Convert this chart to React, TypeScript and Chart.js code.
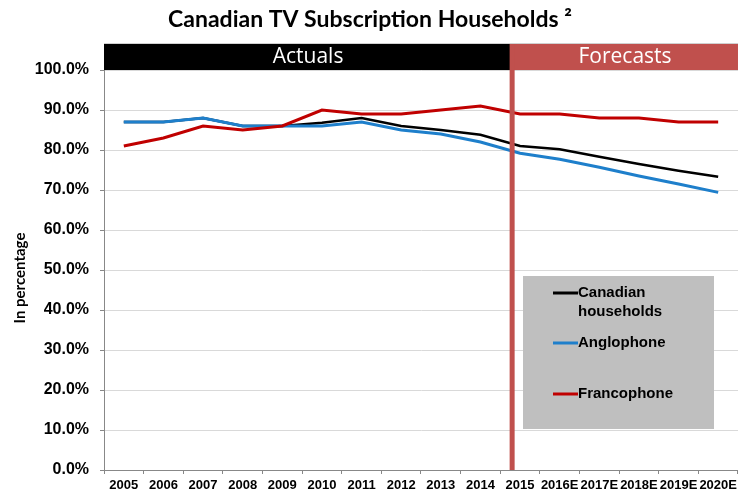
import React, { useEffect, useRef } from 'react';
import { Chart, registerables } from 'chart.js';

Chart.register(...registerables);

const chartTitle = 'Canadian TV Subscription Households ²';
const yAxisTitle = 'In percentage';
const categories = ['2005', '2006', '2007', '2008', '2009', '2010', '2011', '2012', '2013', '2014', '2015', '2016E', '2017E', '2018E', '2019E', '2020E'];
const canadianHouseholds = [87, 87, 88, 86, 86, 86.8, 88, 86, 85, 83.8, 81, 80.2, 78.3, 76.5, 74.8, 73.3];
const anglophone = [87, 87, 88, 86, 86, 86, 87, 85, 84, 82, 79.2, 77.7, 75.7, 73.5, 71.5, 69.4];
const francophone = [81, 83, 86, 85, 86, 90, 89, 89, 90, 91, 89, 89, 88, 88, 87, 87];
const seriesNames = ['Canadian households', 'Anglophone', 'Francophone'];
const legendLines = [['Canadian', 'households'], ['Anglophone'], ['Francophone']];
const seriesColors = ['#000000', '#1E7FCB', '#C00000'];
const headerLabels = ['Actuals', 'Forecasts'];
const forecastSplit = 9.8; // category index position of the actual/forecast divider
const yMin = 0;
const yMax = 100;
const yStep = 10;

const overlayPlugin = {
  id: 'overlay',
  afterDraw(chart: any) {
    const { ctx, chartArea, scales } = chart;
    const x = scales.x;
    const splitX = x.getPixelForValue(forecastSplit);
    const bandTop = chartArea.top - 26;
    ctx.save();
    // title
    ctx.fillStyle = '#000';
    ctx.font = 'bold 23px Lato, "Open Sans", sans-serif';
    ctx.textAlign = 'center';
    ctx.textBaseline = 'middle';
    ctx.fillText(chartTitle, 370, 20);
    // y axis title
    ctx.save();
    ctx.translate(20, 278);
    ctx.rotate(-Math.PI / 2);
    ctx.font = 'bold 15px Lato, "Open Sans", sans-serif';
    ctx.fillText(yAxisTitle, 0, 0);
    ctx.restore();
    // top border
    ctx.strokeStyle = '#D0D0D0';
    ctx.lineWidth = 1;
    ctx.beginPath();
    ctx.moveTo(chartArea.left, bandTop - 0.5);
    ctx.lineTo(chartArea.right, bandTop - 0.5);
    ctx.stroke();
    // header bands
    ctx.fillStyle = '#000000';
    ctx.fillRect(chartArea.left, bandTop, splitX - chartArea.left, 26);
    ctx.fillStyle = '#C0504D';
    ctx.fillRect(splitX, bandTop, chartArea.right - splitX, 26);
    ctx.fillStyle = '#FFFFFF';
    ctx.font = '21px "Open Sans", Lato, sans-serif';
    ctx.fillText(headerLabels[0], (chartArea.left + splitX) / 2, bandTop + 13);
    ctx.fillText(headerLabels[1], (splitX + chartArea.right) / 2, bandTop + 13);
    // divider line
    ctx.fillStyle = '#C0504D';
    ctx.fillRect(splitX - 2.5, bandTop, 5, chartArea.bottom - bandTop);
    // legend
    const lx = 523, ly = 276, lw = 191, lh = 153;
    ctx.fillStyle = '#BFBFBF';
    ctx.fillRect(lx, ly, lw, lh);
    const rowY = [293, 343, 394];
    ctx.font = 'bold 15px "Liberation Sans", Arial, sans-serif';
    ctx.textAlign = 'left';
    legendLines.forEach((lines, i) => {
      ctx.strokeStyle = seriesColors[i];
      ctx.lineWidth = 3;
      ctx.beginPath();
      ctx.moveTo(553, rowY[i]);
      ctx.lineTo(578, rowY[i]);
      ctx.stroke();
      ctx.fillStyle = '#000';
      lines.forEach((t, j) => ctx.fillText(t, 578, rowY[i] + j * 19));
    });
    ctx.restore();
  },
};

export default function App() {
  const ref = useRef<HTMLCanvasElement>(null);
  useEffect(() => {
    if (!ref.current) return;
    const series = [canadianHouseholds, anglophone, francophone];
    const chart = new Chart(ref.current, {
      type: 'line',
      data: {
        labels: categories,
        datasets: series.map((d, i) => ({
          label: seriesNames[i],
          data: d,
          borderColor: seriesColors[i],
          backgroundColor: seriesColors[i],
          borderWidth: i === 0 ? 2.6 : 3,
          pointRadius: 0,
          tension: 0,
          order: 3 - i,
        })),
      },
      options: {
        responsive: false,
        animation: false,
        layout: { padding: { top: 70, left: 0, right: 1, bottom: 0 } },
        plugins: {
          legend: { display: false },
          tooltip: { enabled: false },
          title: { display: false },
        },
        scales: {
          x: {
            type: 'category',
            offset: true,
            afterFit(scale: any) {
              scale.height = 26;
            },
            grid: {
              offset: true,
              drawOnChartArea: false,
              drawTicks: true,
              tickLength: 4,
              tickColor: '#888888',
            },
            border: { display: true, color: '#888888' },
            ticks: {
              autoSkip: false,
              maxRotation: 0,
              minRotation: 0,
              padding: 4,
              color: '#000',
              font: { family: '"Liberation Sans", Arial, sans-serif', weight: 'bold', size: 13 },
            },
          },
          y: {
            min: yMin,
            max: yMax,
            afterFit(scale: any) {
              scale.width = 104;
            },
            grid: {
              color: '#D9D9D9',
              tickColor: '#888888',
              tickLength: 4,
            },
            border: { display: true, color: '#888888' },
            ticks: {
              stepSize: yStep,
              padding: 11,
              color: '#000',
              font: { family: '"Liberation Sans", Arial, sans-serif', weight: 'bold', size: 16 },
              callback: (v: any) => Number(v).toFixed(1) + '%',
            },
          },
        },
      },
      plugins: [overlayPlugin],
    });
    return () => chart.destroy();
  }, []);
  return (
    <div style={{ position: 'fixed', left: 0, top: 0, width: 741, height: 496, background: '#fff' }}>
      <canvas ref={ref} width={741} height={496} style={{ display: 'block', width: 741, height: 496 }} />
    </div>
  );
}
